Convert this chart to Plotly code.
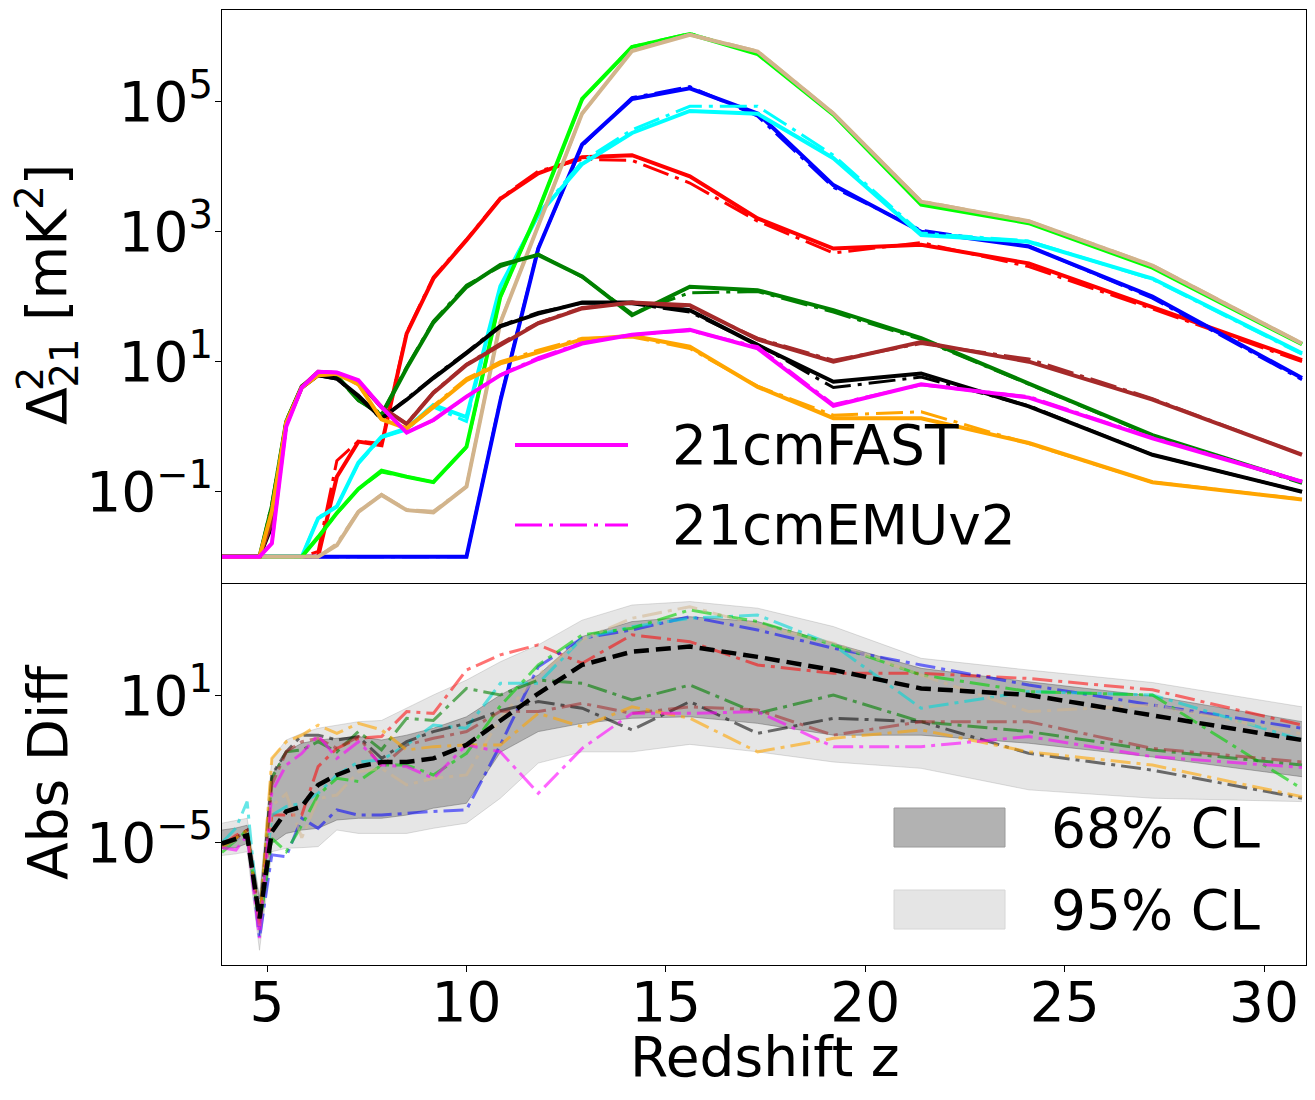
import plotly.graph_objects as go

# ---------------- data ----------------
z = [3.87, 4.22, 4.50, 4.81, 5.12, 5.48, 5.87, 6.28, 6.75, 7.29, 7.87, 8.50, 9.17,
     10.0, 10.85, 11.8, 12.9, 14.15, 15.6, 17.3, 19.2, 21.4, 24.1, 27.2, 30.95]

fast_red = [0.01, 0.01, 0.01, 0.01, 0.01, 0.01, 0.01, 0.01, 0.17, 0.59, 0.52, 27, 190, 740,
            3200, 7900, 14000, 15000, 7100, 1600, 550, 630, 325, 70, 10.6]
emu_red = [0.01, 0.01, 0.01, 0.01, 0.01, 0.01, 0.01, 0.012, 0.3, 0.6, 0.55, 28, 200, 760,
           3300, 8500, 13000, 12500, 5600, 1450, 470, 680, 290, 65, 10]

fast_blue = [0.01, 0.01, 0.01, 0.01, 0.01, 0.01, 0.01, 0.01, 0.01, 0.01, 0.01, 0.01, 0.01, 0.01,
             2.5, 550, 22000, 110000, 160000, 66000, 5200, 1000, 590, 100, 5.6]
emu_blue = [0.01, 0.01, 0.01, 0.01, 0.01, 0.01, 0.01, 0.01, 0.01, 0.01, 0.01, 0.01, 0.01, 0.01,
            2.6, 560, 21000, 115000, 170000, 60000, 4800, 1050, 600, 95, 5.3]

fast_cyan = [0.01, 0.01, 0.01, 0.01, 0.01, 0.01, 0.01, 0.039, 0.059, 0.28, 0.7, 0.94, 2.15, 1.4,
             145, 1800, 11000, 33000, 72000, 65000, 13500, 890, 700, 190, 13.5]
emu_cyan = [0.01, 0.01, 0.01, 0.01, 0.01, 0.01, 0.01, 0.04, 0.06, 0.27, 0.68, 0.9, 2.0, 1.2,
            140, 1900, 12000, 37000, 85000, 85000, 15000, 950, 720, 185, 13]

fast_lime = [0.01, 0.01, 0.01, 0.01, 0.01, 0.01, 0.01, 0.02, 0.047, 0.11, 0.21, 0.17, 0.14, 0.49,
             100, 2100, 110000, 690000, 1100000, 540000, 63000, 2600, 1350, 280, 18.5]
emu_lime = [0.01, 0.01, 0.01, 0.01, 0.01, 0.01, 0.01, 0.02, 0.046, 0.11, 0.2, 0.17, 0.14, 0.48,
            98, 2100, 108000, 700000, 1120000, 545000, 64000, 2650, 1370, 285, 18.8]

fast_tan = [0.01, 0.01, 0.01, 0.01, 0.01, 0.01, 0.01, 0.01, 0.015, 0.049, 0.089, 0.052, 0.048, 0.12,
            40, 1200, 66000, 600000, 1070000, 590000, 66000, 2900, 1450, 300, 19]
emu_tan = [0.01, 0.01, 0.01, 0.01, 0.01, 0.01, 0.01, 0.01, 0.016, 0.05, 0.09, 0.053, 0.05, 0.12,
           41, 1230, 65000, 610000, 1080000, 600000, 66500, 2950, 1460, 305, 19.2]

fast_green = [0.01, 0.01, 0.01, 0.01, 0.06, 1.2, 4.2, 6.5, 6.0, 2.6, 1.5, 7.9, 40, 141,
              308, 440, 205, 52, 142, 126, 62, 23, 4.6, 0.74, 0.14]
emu_green = [0.01, 0.01, 0.01, 0.01, 0.065, 1.25, 4.2, 6.4, 5.8, 2.5, 1.6, 8.3, 42, 150,
             290, 450, 200, 55, 115, 120, 58, 22, 4.5, 0.73, 0.135]

fast_black = [0.01, 0.01, 0.01, 0.01, 0.03, 1.1, 4.0, 6.2, 5.5, 3.0, 1.34, 2.6, 5.6, 13.5,
              35, 55, 81, 81, 62, 18, 4.9, 6.6, 2.05, 0.37, 0.1]
emu_black = [0.01, 0.01, 0.01, 0.01, 0.032, 1.1, 4.0, 6.1, 5.4, 2.9, 1.3, 2.7, 5.8, 14,
             36, 57, 80, 78, 58, 18.5, 4.0, 5.8, 2.1, 0.37, 0.1]

fast_brown = [0.01, 0.01, 0.01, 0.01, 0.035, 1.15, 4.1, 7.0, 6.7, 4.9, 2.0, 1.1, 3.3, 8.9,
              18, 39, 66, 81, 74, 22, 10, 20, 10, 2.6, 0.37]
emu_brown = [0.01, 0.01, 0.01, 0.01, 0.036, 1.15, 4.1, 6.9, 6.6, 4.8, 2.0, 1.12, 3.4, 9.1,
             19, 40, 68, 80, 70, 23, 10.5, 19, 11, 2.7, 0.37]

fast_orange = [0.01, 0.01, 0.01, 0.01, 0.05, 1.15, 4.0, 6.2, 6.5, 4.5, 1.3, 0.94, 2.0, 5.2,
               9.4, 14, 22, 25, 17, 4.1, 1.35, 1.35, 0.56, 0.14, 0.076]
emu_orange = [0.01, 0.01, 0.01, 0.01, 0.05, 1.15, 4.0, 6.2, 6.4, 4.4, 1.3, 0.95, 2.1, 5.5,
              10, 15, 23, 24, 16, 4.2, 1.5, 1.7, 0.55, 0.14, 0.077]

fast_magenta = [0.01, 0.01, 0.01, 0.01, 0.016, 1.0, 4.0, 7.0, 6.8, 5.2, 2.0, 0.81, 1.27, 2.9,
                6.2, 11, 19, 26, 31, 16, 2.1, 4.5, 2.8, 0.66, 0.143]
emu_magenta = [0.01, 0.01, 0.01, 0.01, 0.016, 1.0, 4.0, 7.0, 6.8, 5.1, 2.0, 0.82, 1.25, 2.9,
               6.3, 11.5, 19.5, 26, 30, 17, 2.2, 4.4, 2.9, 0.68, 0.145]

# absolute differences (bottom panel)
diff_red = [7.9e-6, 2.0e-5, 3.2e-5, 7.9e-9, 1.35e-4, 1.35e-4, 1.35e-4, 1.3e-2, 7.2e-2, 0.186, 0.219,
            2.3, 1.95, 115, 479, 1230, 219, 3160, 1660, 186, 85, 85, 52, 17.8, 0.646]
diff_blue = [6.3e-6, 1.26e-5, 3.2e-5, 1.26e-9, 3.2e-6, 2.7e-6, 1.0e-4, 3.9e-5, 2.2e-4, 1.35e-4,
             1.35e-4, 1.6e-4, 1.9e-4, 2.2e-4, 0.1, 158, 2290, 5000, 17400, 5000, 891, 186, 28, 4.3, 0.479]
diff_cyan = [1.0e-5, 4.0e-5, 4.8e-4, 3.2e-9, 1.35e-4, 3.0e-4, 4.1e-4, 1.05e-3, 5.9e-3, 2.0e-2,
             2.4e-2, 0.1, 0.646, 0.479, 33, 33, 2290, 6760, 15100, 20400, 1230, 3.16, 15.1, 11, 0.158]
diff_lime = [4.0e-6, 1.26e-5, 3.2e-5, 3.2e-9, 1.5e-5, 4.3e-6, 5.2e-5, 8.9e-4, 4.3e-3, 3.2e-3,
             1.5e-2, 1.5e-2, 5.9e-3, 4.5e-2, 4.0, 186, 3160, 5890, 33100, 11000, 1230, 72, 15.1, 11, 1.6e-3]
diff_tan = [6.3e-6, 1.26e-5, 2.5e-5, 5.0e-9, 3.2e-4, 1.0e-3, 1.6e-5, 6.3e-4, 8.9e-4, 7.9e-3,
            1.1e-2, 2.3e-3, 4.3e-3, 5.9e-3, 1.23, 72, 2000, 15100, 44700, 7940, 1450, 72, 2.3, 4.3, 0.28]
diff_green = [6.3e-6, 1.6e-5, 3.2e-5, 6.3e-9, 4.3e-3, 5.2e-2, 6.2e-2, 0.135, 5.2e-2, 0.35,
              6.3e-2, 1.23, 1.0, 20.4, 11, 44.7, 33, 6.9, 28, 1.95, 11, 0.89, 0.35, 6.2e-2, 1.5e-2]
diff_black = [7.9e-6, 1.6e-5, 3.2e-5, 5.0e-9, 5.9e-3, 5.2e-2, 0.25, 0.25, 0.158, 0.219,
              2.8e-2, 0.135, 0.35, 0.76, 2.5, 5.9, 3.16, 0.41, 5.9, 0.295, 1.23, 0.89, 4.5e-2, 9.3e-3, 6.6e-4]
diff_brown = [1.0e-5, 1.6e-5, 3.2e-5, 5.0e-9, 2.3e-3, 5.2e-2, 0.135, 0.186, 7.2e-2, 0.219,
              1.3e-2, 0.1, 0.186, 0.35, 2.4, 2.3, 5.0, 1.95, 3.6, 2.7, 0.25, 0.89, 0.89, 7.2e-2, 2.0e-2]
diff_orange = [6.3e-6, 1.6e-5, 3.2e-5, 4.0e-9, 2.8e-2, 0.135, 0.25, 0.646, 0.295, 0.76,
               0.41, 6.2e-2, 8.5e-2, 0.1, 0.1, 1.95, 0.55, 3.6, 1.23, 5.2e-2, 0.186, 0.41, 5.2e-2, 1.5e-2, 7.6e-4]
diff_magenta = [6.3e-6, 5.0e-6, 2.0e-5, 1.26e-9, 1.2e-3, 1.5e-2, 4.5e-2, 0.25, 2.8e-2, 0.135,
                1.5e-2, 1.3e-2, 4.3e-3, 0.1, 5.2e-2, 1.05e-3, 7.2e-2, 1.95, 1.95, 2.3, 8.5e-2, 8.5e-2, 0.219, 3.3e-2, 1.2e-2]

diff_median = [9.3e-6, 1.5e-5, 2.0e-5, 8.1e-9, 2.8e-5, 1.9e-4, 3.0e-4, 2.3e-3, 5.9e-3, 1.3e-2,
               2.0e-2, 2.0e-2, 2.8e-2, 0.1, 1.0, 12.6, 186, 646, 1050, 398, 115, 20.4, 11, 1.58, 0.158]
ci68_hi = [3.3e-5, 4.0e-5, 5.2e-5, 5.0e-8, 5.9e-3, 5.2e-2, 0.117, 0.158, 0.186, 0.219, 0.158, 0.251,
           0.479, 1.41, 11, 72, 2690, 11000, 17400, 11000, 1450, 135, 38, 10, 0.89]
ci68_lo = [5.9e-6, 6.3e-6, 9.3e-6, 1.6e-9, 9.3e-6, 2.4e-5, 3.3e-5, 3.9e-5, 8.5e-5, 1.0e-4, 1.0e-4,
           1.35e-4, 2.6e-4, 4.1e-4, 5.0e-2, 0.35, 0.76, 1.23, 1.41, 0.76, 0.25, 0.25, 0.117, 3.2e-2, 5.0e-3]
ci95_hi = [6.3e-5, 7.9e-5, 1.0e-4, 6.3e-8, 2.8e-2, 0.158, 0.295, 0.479, 0.646, 0.89, 1.0, 3.16,
           11, 44.7, 251, 1230, 12600, 52500, 72400, 38900, 6900, 347, 115, 35.5, 3.6]
ci95_lo = [3.0e-6, 3.5e-6, 4.3e-6, 4.0e-10, 4.3e-6, 5.9e-6, 6.3e-6, 6.9e-6, 3.3e-5, 2.4e-5, 2.4e-5,
           2.4e-5, 3.9e-5, 6.3e-5, 6.6e-4, 1.8e-2, 5.2e-2, 5.2e-2, 0.105, 5.2e-2, 2.0e-2, 1.1e-2,
           1.45e-3, 6.6e-4, 4.8e-4]

x_ticks = [5, 10, 15, 20, 25, 30]
top_tickvals = [0.1, 10, 1000, 100000]
top_ticktext = ["10<sup>\u22121</sup>", "10<sup>1</sup>", "10<sup>3</sup>", "10<sup>5</sup>"]
bot_tickvals = [1e-5, 10]
bot_ticktext = ["10<sup>\u22125</sup>", "10<sup>1</sup>"]
legend_top = ["21cmFAST", "21cmEMUv2"]
legend_bot = ["68% CL", "95% CL"]

# ---------------- styling ----------------
FONT = "DejaVu Sans"
FS = 55
W, H = 1315, 1100
L, R, T, B = 222, 9, 10, 135
PW, PH = W - L - R, H - T - B


def px(xp):
    return (xp - L) / PW


def py(yp):
    return (H - B - yp) / PH


series = [
    ("#ff0000", "rgba(255,0,0,0.55)", fast_red, emu_red, diff_red),
    ("#0000ff", "rgba(0,0,255,0.55)", fast_blue, emu_blue, diff_blue),
    ("#00ffff", "rgba(0,215,215,0.6)", fast_cyan, emu_cyan, diff_cyan),
    ("#00ff00", "rgba(0,210,0,0.6)", fast_lime, emu_lime, diff_lime),
    ("#d2b48c", "rgba(210,180,140,0.55)", fast_tan, emu_tan, diff_tan),
    ("#008000", "rgba(0,128,0,0.6)", fast_green, emu_green, diff_green),
    ("#000000", "rgba(0,0,0,0.55)", fast_black, emu_black, diff_black),
    ("#a52a2a", "rgba(165,42,42,0.55)", fast_brown, emu_brown, diff_brown),
    ("#ffa500", "rgba(255,165,0,0.6)", fast_orange, emu_orange, diff_orange),
    ("#ff00ff", "rgba(255,0,255,0.6)", fast_magenta, emu_magenta, diff_magenta),
]

DASHDOT = "27px,7px,4px,7px"
DASHDOT_B = "20px,6px,4px,6px"

fig = go.Figure()

# top panel lines
for col, _, fast, emu, _d in series:
    fig.add_trace(go.Scatter(x=z, y=fast, mode="lines", line=dict(color=col, width=4),
                             xaxis="x", yaxis="y", showlegend=False))
    fig.add_trace(go.Scatter(x=z, y=emu, mode="lines", line=dict(color=col, width=3, dash=DASHDOT),
                             xaxis="x", yaxis="y", showlegend=False))

# bottom panel bands
fig.add_trace(go.Scatter(x=z, y=ci95_lo, mode="lines", line=dict(color="rgba(128,128,128,0.25)", width=1),
                         xaxis="x2", yaxis="y2", showlegend=False))
fig.add_trace(go.Scatter(x=z, y=ci95_hi, mode="lines", line=dict(color="rgba(128,128,128,0.25)", width=1),
                         fill="tonexty", fillcolor="rgba(128,128,128,0.2)",
                         xaxis="x2", yaxis="y2", showlegend=False))
fig.add_trace(go.Scatter(x=z, y=ci68_lo, mode="lines", line=dict(color="rgba(90,90,90,0.45)", width=1),
                         xaxis="x2", yaxis="y2", showlegend=False))
fig.add_trace(go.Scatter(x=z, y=ci68_hi, mode="lines", line=dict(color="rgba(90,90,90,0.45)", width=1),
                         fill="tonexty", fillcolor="rgba(128,128,128,0.52)",
                         xaxis="x2", yaxis="y2", showlegend=False))

for _, acol, _f, _e, diff in series:
    fig.add_trace(go.Scatter(x=z, y=diff, mode="lines", line=dict(color=acol, width=3, dash=DASHDOT_B),
                             xaxis="x2", yaxis="y2", showlegend=False))

fig.add_trace(go.Scatter(x=z, y=diff_median, mode="lines", line=dict(color="black", width=4.5, dash="15px,7px"),
                         xaxis="x2", yaxis="y2", showlegend=False))

axis_common = dict(showline=True, mirror=True, linecolor="black", linewidth=1,
                   showgrid=False, zeroline=False, tickfont=dict(family=FONT, size=FS, color="black"),
                   tickcolor="black", ticklen=6, tickwidth=1)

xr = [3.87, 31.05]
split = (H - B - 583.5) / PH

fig.update_layout(
    width=W, height=H,
    margin=dict(l=L, r=R, t=T, b=B, autoexpand=False),
    paper_bgcolor="white", plot_bgcolor="white",
    showlegend=False,
    font=dict(family=FONT, size=FS, color="black"),
    xaxis=dict(domain=[0, 1], anchor="y", range=xr, showticklabels=False, ticks="",
               matches="x2", **axis_common),
    yaxis=dict(domain=[split + 0.0005, 1], anchor="x", type="log", range=[-2.405, 6.41],
               tickmode="array", tickvals=top_tickvals, ticktext=top_ticktext,
               ticks="outside", ticklabelstandoff=-9, **axis_common),
    xaxis2=dict(domain=[0, 1], anchor="y2", range=xr, tickmode="array", tickvals=x_ticks,
                ticks="outside", ticklabelstandoff=-17, **axis_common),
    yaxis2=dict(domain=[0, split - 0.0005], anchor="x2", type="log", range=[-10.0, 5.58],
                tickmode="array", tickvals=bot_tickvals, ticktext=bot_ticktext,
                ticks="outside", ticklabelstandoff=-9, **axis_common),
)

ann = []
# axis titles
ann.append(dict(text="Redshift z", x=px(765), y=py(1057), xref="paper", yref="paper",
                showarrow=False, font=dict(family=FONT, size=FS), xanchor="center", yanchor="middle"))
ann.append(dict(text="Abs Diff", x=px(48), y=py(773), xref="paper", yref="paper", textangle=-90,
                showarrow=False, font=dict(family=FONT, size=FS), xanchor="center", yanchor="middle"))
ann.append(dict(text="\u0394<sub>21</sub> [mK<sup>2</sup>]", x=px(47), y=py(295), xref="paper", yref="paper",
                textangle=-90, showarrow=False, font=dict(family=FONT, size=FS),
                xanchor="center", yanchor="middle"))
ann.append(dict(text="2", x=px(30), y=py(379), xref="paper", yref="paper",
                textangle=-90, showarrow=False, font=dict(family=FONT, size=38),
                xanchor="center", yanchor="middle"))

# top legend
shapes = []
shapes.append(dict(type="line", xref="paper", yref="paper", x0=px(515), x1=px(628), y0=py(445), y1=py(445),
                   line=dict(color="#ff00ff", width=4)))
shapes.append(dict(type="line", xref="paper", yref="paper", x0=px(515), x1=px(628), y0=py(525), y1=py(525),
                   line=dict(color="#ff00ff", width=3, dash=DASHDOT)))
ann.append(dict(text=legend_top[0], x=px(670), y=py(445), xref="paper", yref="paper", showarrow=False,
                font=dict(family=FONT, size=FS), xanchor="left", yanchor="middle"))
ann.append(dict(text=legend_top[1], x=px(670), y=py(525), xref="paper", yref="paper", showarrow=False,
                font=dict(family=FONT, size=FS), xanchor="left", yanchor="middle"))

# bottom legend
shapes.append(dict(type="rect", xref="paper", yref="paper", x0=px(894), x1=px(1005), y0=py(847), y1=py(808),
                   fillcolor="#b2b2b2", line=dict(color="#9a9a9a", width=1)))
shapes.append(dict(type="rect", xref="paper", yref="paper", x0=px(894), x1=px(1005), y0=py(929), y1=py(890),
                   fillcolor="#e5e5e5", line=dict(color="#d6d6d6", width=1)))
ann.append(dict(text=legend_bot[0], x=px(1049), y=py(828), xref="paper", yref="paper", showarrow=False,
                font=dict(family=FONT, size=FS), xanchor="left", yanchor="middle"))
ann.append(dict(text=legend_bot[1], x=px(1049), y=py(910), xref="paper", yref="paper", showarrow=False,
                font=dict(family=FONT, size=FS), xanchor="left", yanchor="middle"))

fig.update_layout(annotations=ann, shapes=shapes)
fig.write_html("out.html")
